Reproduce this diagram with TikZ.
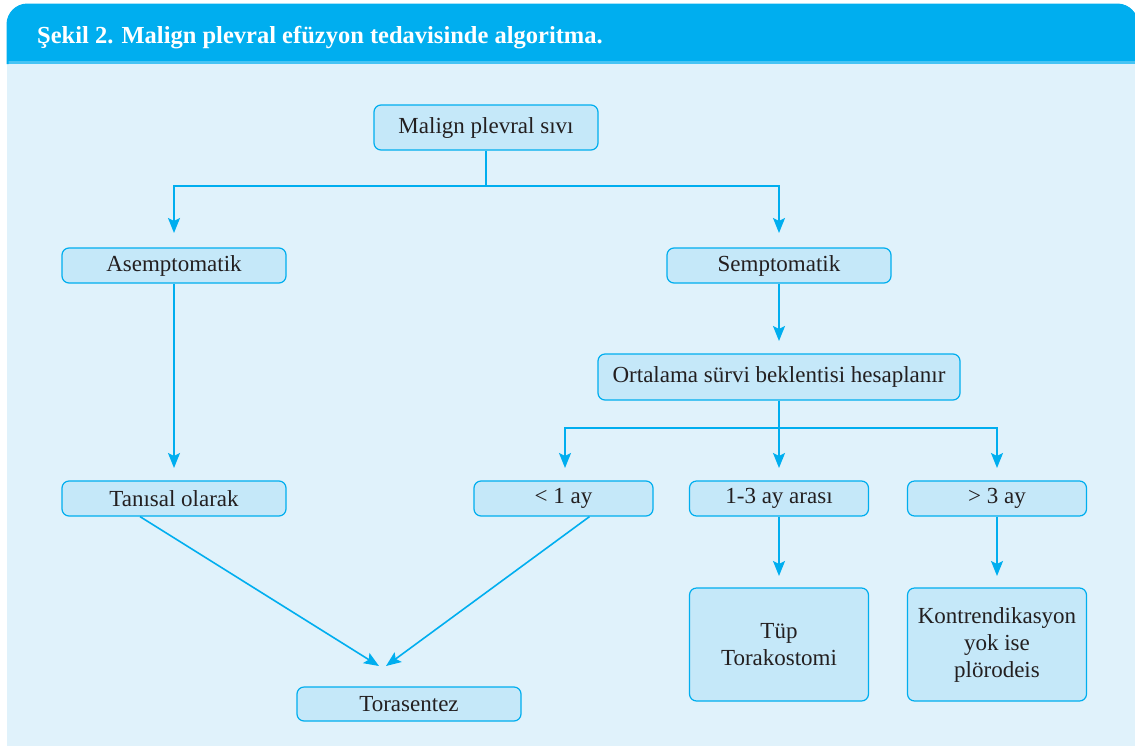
\documentclass[tikz,border=0pt]{standalone}
\usepackage{fontspec}
\setmainfont{Liberation Serif}
\usetikzlibrary{arrows.meta,positioning}
\definecolor{headcolor}{RGB}{0,174,239}
\definecolor{stripecolor}{RGB}{70,196,244}
\definecolor{panelcolor}{RGB}{224,242,251}
\definecolor{elemcolor}{RGB}{197,232,249}
\definecolor{linecolor}{RGB}{0,174,239}
\definecolor{textcolor}{RGB}{35,31,32}

\begin{document}
\begin{tikzpicture}[%
    x=1pt, y=-1pt,                                   % pixel-like grid, y runs downwards
    >={Stealth[length=15pt,width=12pt,inset=3pt]},   % filled arrow heads
    norm/.style={draw=linecolor, line width=1.6pt},  % connector lines
    ]
\tikzset{
  base/.style={draw=linecolor, line width=1.2pt, fill=elemcolor, rounded corners=7pt,
    align=center, text=textcolor, inner sep=0pt, font=\fontsize{23}{27}\selectfont},
  proc/.style={base, minimum width=224pt, minimum height=35pt},
  shortbox/.style={base, minimum width=179pt, minimum height=35pt},
  tallbox/.style={base, minimum width=179pt, minimum height=113pt},
}

\useasboundingbox (0,0) rectangle (1135,745);
\clip (0,0) rectangle (1135,745);

% frame
\fill [panelcolor, rounded corners=20pt] (7,4) rectangle (1138,780);
\fill [headcolor, rounded corners=20pt] (7,4) -- (7,62) -- (1138,62) -- (1138,4) -- cycle;
\fill [headcolor] (7,40) rectangle (1138,62);
\fill [stripecolor] (7,61) rectangle (1138,64);
\draw [headcolor, line width=2pt, rounded corners=20pt] (7.5,64) -- (7.5,4.5) -- (1137,4.5) -- (1137,780);

\node [anchor=base west, text=white, inner sep=0pt,
  font=\bfseries\fontsize{24.5}{28}\selectfont] (title) at (37,43)
  {Şekil 2. Malign plevral efüzyon tedavisinde algoritma.};

\node [proc, minimum height=45pt] (malign) at (486,127.5) {Malign plevral sıvı};
\node [proc] (asemp) at (174,265.5) {Asemptomatik};
\node [proc] (semp) at (779,265.5) {Semptomatik};
\node [base, minimum width=362pt, minimum height=46pt] (ortalama) at (779,377) {Ortalama sürvi beklentisi hesaplanır};
\node [proc] (tanisal) at (174,498.5) {Tanısal olarak};
\node [shortbox] (ay1) at (563.5,498.5) {< 1 ay};
\node [shortbox] (ay13) at (779,498.5) {1-3 ay arası};
\node [shortbox] (ay3) at (997,498.5) {> 3 ay};
\node [tallbox] (tup) at (779,644.5) {Tüp\\Torakostomi};
\node [tallbox] (kontr) at (997,644.5) {Kontrendikasyon\\yok ise\\plörodeis};
\node [proc, minimum height=34pt] (tora) at (409,704) {Torasentez};

% free ends of the arrows
\coordinate (j1) at (486,186);
\coordinate (j2) at (779,428);
\coordinate (asempIn) at (174,233);
\coordinate (sempIn) at (779,233);
\coordinate (ortIn) at (779,341);
\coordinate (tanIn) at (174,468);
\coordinate (ay1In) at (565,468);
\coordinate (ay13In) at (779,468);
\coordinate (ay3In) at (997,468);
\coordinate (tupIn) at (779,576);
\coordinate (kontrIn) at (997,576);
\coordinate (toraL) at (379,666);
\coordinate (toraR) at (386,666);

% connect
\draw [norm] (malign.south) -- (j1);
\draw [norm,->] (j1) -| (asempIn);
\draw [norm,->] (j1) -| (sempIn);
\draw [norm,->] (semp.south) -- (ortIn);
\draw [norm] (ortalama.south) -- (j2);
\draw [norm,->] (j2) -| (ay1In);
\draw [norm,->] (j2) -- (ay13In);
\draw [norm,->] (j2) -| (ay3In);
\draw [norm,->] (asemp.south) -- (tanIn);
\draw [norm,->] (ay13.south) -- (tupIn);
\draw [norm,->] (ay3.south) -- (kontrIn);
\draw [norm,->] ([xshift=-34pt]tanisal.south) -- (toraL);
\draw [norm,->] ([xshift=26pt]ay1.south) -- (toraR);

\end{tikzpicture}
\end{document}
